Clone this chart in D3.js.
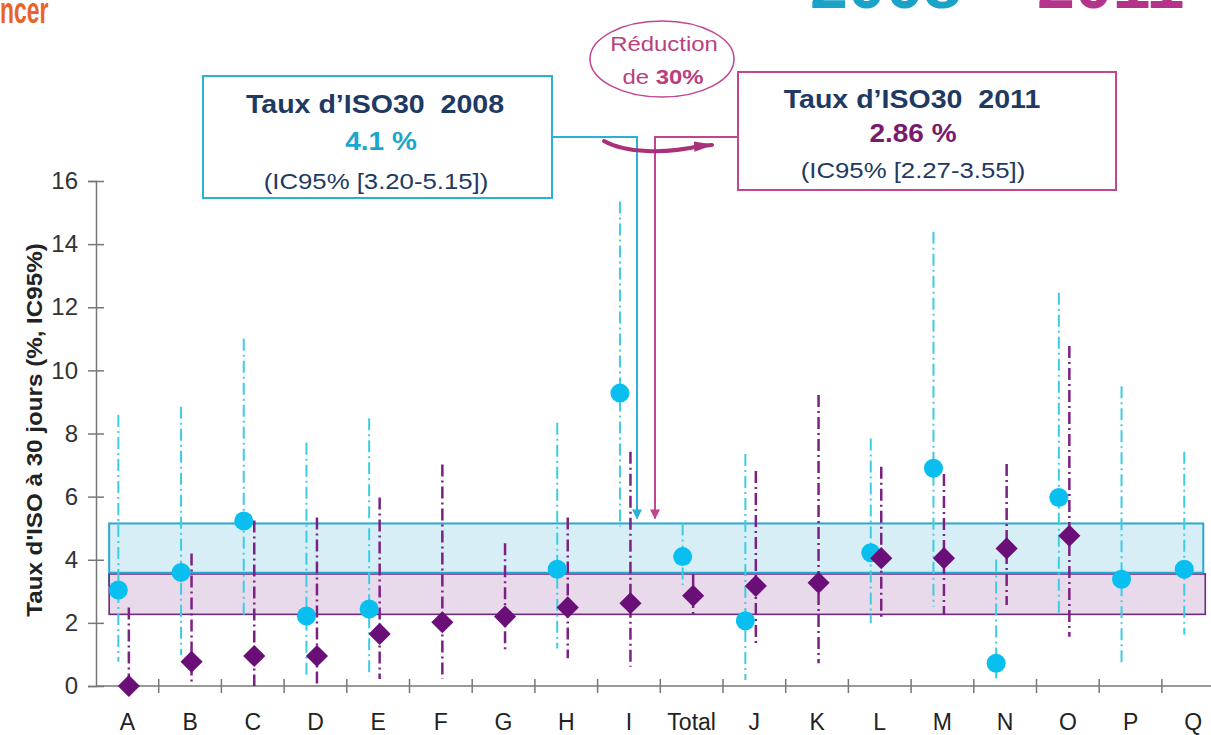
<!DOCTYPE html>
<html>
<head>
<meta charset="utf-8">
<script src="https://cdn.jsdelivr.net/npm/d3@7"></script>
<style>
  body { margin: 0; background: #fff; }
  svg { display: block; }
  text { font-family: "Liberation Sans", Arial, sans-serif; }
</style>
</head>
<body>
<svg id="chart" width="1211" height="735"></svg>
<script>
// Hospitals (anonymised) plus the overall rate
const categories = ["A","B","C","D","E","F","G","H","I","Total","J","K","L","M","N","O","P","Q"];

// 2008: 30-day ISO rate (%) and 95% confidence bounds
const rate2008 = [3.04, 3.60, 5.23, 2.22, 2.44, null, null, 3.70, 9.28, 4.10, 2.07, null, 4.22, 6.90, 0.72, 5.97, 3.38, 3.70];
const low2008  = [0.77, 0.98, 2.14, 0.30, 0.30, null, null, 1.19, 5.05, 3.20, 0.19, null, 2.00, 2.51, 0.24, 2.20, 0.72, 1.62];
const high2008 = [8.59, 8.85, 11.0, 7.71, 8.48, null, null, 8.34, 15.35, 5.15, 7.35, null, 7.84, 14.39, 4.01, 12.46, 9.50, 7.42];

// 2011: 30-day ISO rate (%) and 95% confidence bounds
const rate2011 = [0.00, 0.77, 0.95, 0.95, 1.65, 2.02, 2.20, 2.49, 2.62, 2.86, 3.17, 3.27, 4.05, 4.05, 4.36, 4.76, null, null];
const low2011  = [0.00, 0.03, 0.00, 0.00, 0.22, 0.22, 1.09, 0.88, 0.61, 2.27, 1.30, 0.72, 2.14, 2.25, 2.57, 1.56, null, null];
const high2011 = [2.49, 4.20, 5.24, 5.34, 5.97, 7.02, 4.52, 5.34, 7.42, 3.55, 6.81, 9.22, 6.95, 6.72, 7.03, 10.77, null, null];

const yTicks = [0, 2, 4, 6, 8, 10, 12, 14, 16];

const C = {
  dot2008: "#08bff0", ci2008: "#3ccde3", band2008: "#d7eef6", bandLine2008: "#2aa8cf",
  dot2011: "#6b0f78", ci2011: "#7b2184", band2011: "#e9daeb", bandLine2011: "#6d2a82",
  navy: "#1f3a62", cyan: "#1ba6cc", plum: "#7a1a6e", magenta: "#c2458f",
  axis: "#777", label: "#222"
};

const svg = d3.select("#chart");
const W = 1211;
const plotLeft = 96, bandW = 62.7, plotTop = 181, plotBottom = 686;

const x = d3.scaleBand().domain(categories).range([plotLeft, plotLeft + categories.length * bandW]).padding(0);
const y = d3.scaleLinear().domain([0, 16]).range([plotBottom, plotTop]);
const cx = c => x(c) + x.bandwidth() / 2;
const off2008 = -9, off2011 = 1.5;

const iTot = categories.indexOf("Total");

// helper: horizontally stretched text
function sText(g, px, py, sx, anchor) {
  return g.append("text")
    .attr("transform", `translate(${px},${py}) scale(${sx},1)`)
    .attr("text-anchor", anchor || "middle");
}

// ---- reference bands for the overall CI ----
const bandX0 = x("A") + 0.21 * bandW, bandX1 = x("Q") + 0.66 * bandW;
svg.append("rect")
  .attr("x", bandX0).attr("width", bandX1 - bandX0)
  .attr("y", y(high2008[iTot])).attr("height", y(low2008[iTot]) - y(high2008[iTot]))
  .attr("fill", C.band2008).attr("stroke", C.bandLine2008).attr("stroke-width", 2);
svg.append("rect")
  .attr("x", bandX0).attr("width", bandX1 + 2 - bandX0)
  .attr("y", y(high2011[iTot])).attr("height", y(low2011[iTot]) - y(high2011[iTot]))
  .attr("fill", C.band2011).attr("stroke", C.bandLine2011).attr("stroke-width", 1.6);
// shared edge where the two intervals meet
svg.append("line")
  .attr("x1", bandX0).attr("x2", bandX1)
  .attr("y1", y(high2011[iTot]) - 1.2).attr("y2", y(high2011[iTot]) - 1.2)
  .attr("stroke", C.bandLine2008).attr("stroke-width", 1.8);

// ---- axes ----
const yAxis = svg.append("g").attr("transform", `translate(${plotLeft},0)`)
  .call(d3.axisLeft(y).tickValues(yTicks).tickSize(8).tickPadding(10).tickFormat(d3.format("d")));
yAxis.select(".domain").attr("stroke", C.axis).attr("stroke-width", 1.5);
yAxis.selectAll(".tick line").attr("x1", 8).attr("stroke", C.axis).attr("stroke-width", 1.5);
yAxis.selectAll(".tick text").attr("font-size", 24).attr("fill", "#333")
  .attr("font-family", "'Liberation Sans', Arial, sans-serif");

const xg = svg.append("g");
xg.append("line").attr("x1", plotLeft).attr("x2", W).attr("y1", plotBottom).attr("y2", plotBottom)
  .attr("stroke", C.axis).attr("stroke-width", 1.5);
xg.selectAll("line.tk").data(categories.slice(1)).join("line").attr("class", "tk")
  .attr("x1", d => x(d)).attr("x2", d => x(d)).attr("y1", plotBottom - 7).attr("y2", plotBottom + 7)
  .attr("stroke", C.axis).attr("stroke-width", 1.5);
xg.selectAll("text").data(categories).join("text")
  .attr("x", d => cx(d)).attr("y", plotBottom + 44)
  .attr("text-anchor", "middle").attr("font-size", 23).attr("fill", C.label)
  .text(d => d);

// y title
svg.append("text")
  .attr("transform", `translate(42,430) rotate(-90) scale(1.1,1)`)
  .attr("text-anchor", "middle").attr("font-size", 22).attr("font-weight", "bold").attr("fill", "#222")
  .text("Taux d'ISO à 30 jours (%, IC95%)");

// ---- confidence intervals ----
const rows = categories.map((c, i) => ({
  c, r08: rate2008[i], l08: low2008[i], h08: high2008[i],
  r11: rate2011[i], l11: low2011[i], h11: high2011[i]
}));
svg.append("g").selectAll("line").data(rows.filter(d => d.r08 != null)).join("line")
  .attr("x1", d => cx(d.c) + off2008).attr("x2", d => cx(d.c) + off2008)
  .attr("y1", d => y(d.h08)).attr("y2", d => y(d.l08))
  .attr("stroke", C.ci2008).attr("stroke-width", 2).attr("stroke-dasharray", "12,4,2,4");
svg.append("g").selectAll("line").data(rows.filter(d => d.r11 != null)).join("line")
  .attr("x1", d => cx(d.c) + off2011).attr("x2", d => cx(d.c) + off2011)
  .attr("y1", d => y(d.h11)).attr("y2", d => y(d.l11))
  .attr("stroke", C.ci2011).attr("stroke-width", 2.5).attr("stroke-dasharray", "12,4,2,4");

// ---- points ----
svg.append("g").selectAll("circle").data(rows.filter(d => d.r08 != null)).join("circle")
  .attr("cx", d => cx(d.c) + off2008).attr("cy", d => y(d.r08)).attr("r", 9.5)
  .attr("fill", C.dot2008);
svg.append("g").selectAll("path").data(rows.filter(d => d.r11 != null)).join("path")
  .attr("transform", d => `translate(${cx(d.c) + off2011},${y(d.r11)}) rotate(45)`)
  .attr("d", d3.symbol().type(d3.symbolSquare).size(245))
  .attr("fill", C.dot2011);

// ---- annotations ----
const defs = svg.append("defs");
function arrowMarker(id, color, w, h) {
  defs.append("marker").attr("id", id).attr("viewBox", "0 0 10 10")
    .attr("refX", 9).attr("refY", 5).attr("markerWidth", w).attr("markerHeight", h)
    .attr("orient", "auto").attr("markerUnits", "strokeWidth")
    .attr("preserveAspectRatio", "none")
    .append("path").attr("d", "M0,0 L10,5 L0,10 Z").attr("fill", color);
}
arrowMarker("arrCyan", "#2bb0dc", 5, 5);
arrowMarker("arrMag", C.magenta, 5, 5);
arrowMarker("arrCurve", "#a8327a", 5, 2.6);

const tip = y(high2008[iTot]) - 5;
svg.append("path").attr("d", `M552,137 H637 V${tip}`)
  .attr("fill", "none").attr("stroke", "#2bb0dc").attr("stroke-width", 2).attr("marker-end", "url(#arrCyan)");
svg.append("path").attr("d", `M738,137 H655 V${tip}`)
  .attr("fill", "none").attr("stroke", C.magenta).attr("stroke-width", 2).attr("marker-end", "url(#arrMag)");

// boxes
const ann = svg.append("g");
ann.append("rect").attr("x", 203).attr("y", 76).attr("width", 349).attr("height", 122)
  .attr("fill", "#fff").attr("stroke", "#2bb0d8").attr("stroke-width", 2);
ann.append("rect").attr("x", 738).attr("y", 72).attr("width", 378).attr("height", 118)
  .attr("fill", "#fff").attr("stroke", C.magenta).attr("stroke-width", 2);

const fmt2 = d3.format(".2f");
sText(ann, 375, 113, 1.12).attr("font-size", 25.5).attr("font-weight", "bold").attr("fill", C.navy)
  .attr("xml:space", "preserve").text("Taux d\u2019ISO30\u00a0 2008");
sText(ann, 381, 150, 1.12).attr("font-size", 25).attr("font-weight", "bold").attr("fill", C.cyan)
  .text(`${rate2008[iTot]} %`);
sText(ann, 376, 189, 1.12).attr("font-size", 23).attr("fill", C.navy)
  .text(`(IC95% [${fmt2(low2008[iTot])}-${fmt2(high2008[iTot])}])`);

sText(ann, 912, 108, 1.12).attr("font-size", 25.5).attr("font-weight", "bold").attr("fill", C.navy)
  .text("Taux d\u2019ISO30\u00a0 2011");
sText(ann, 913, 142, 1.12).attr("font-size", 25).attr("font-weight", "bold").attr("fill", C.plum)
  .text(`${rate2011[iTot]} %`);
sText(ann, 913, 178, 1.12).attr("font-size", 23).attr("fill", C.navy)
  .text(`(IC95% [${fmt2(low2011[iTot])}-${fmt2(high2011[iTot])}])`);

// reduction bubble
ann.append("ellipse").attr("cx", 662).attr("cy", 59).attr("rx", 72).attr("ry", 38)
  .attr("fill", "#fff").attr("stroke", C.magenta).attr("stroke-width", 1.5);
const reduction = Math.round((1 - rate2011[iTot] / rate2008[iTot]) * 100);
sText(ann, 664, 51, 1.14).attr("font-size", 21).attr("fill", "#b8407f").text("Réduction");
const t2 = sText(ann, 663, 84, 1.14).attr("font-size", 21).attr("fill", "#b8407f");
t2.append("tspan").text("de ");
t2.append("tspan").attr("font-weight", "bold").text(`${reduction}%`);

// curved arrow between the two years
ann.append("path").attr("d", "M604,141 C625,153 665,154 700,146 L712,145")
  .attr("fill", "none").attr("stroke", "#a8327a").attr("stroke-width", 4).attr("stroke-linecap", "round")
  .attr("marker-end", "url(#arrCurve)");

// header fragments
svg.append("text").attr("transform", "translate(0,23) scale(0.62,1)")
  .attr("font-size", 37).attr("font-weight", "bold").attr("fill", "#e8642a").text("ncer");
const hdr = svg.append("text").attr("x", 810).attr("y", 8).attr("font-size", 68).attr("font-weight", "bold");
hdr.append("tspan").attr("fill", "#1aa3c9").text("2008");
hdr.append("tspan").attr("fill", "#888").text(" \u2013 ");
hdr.append("tspan").attr("fill", "#b5338a").text("2011");
</script>
</body>
</html>
